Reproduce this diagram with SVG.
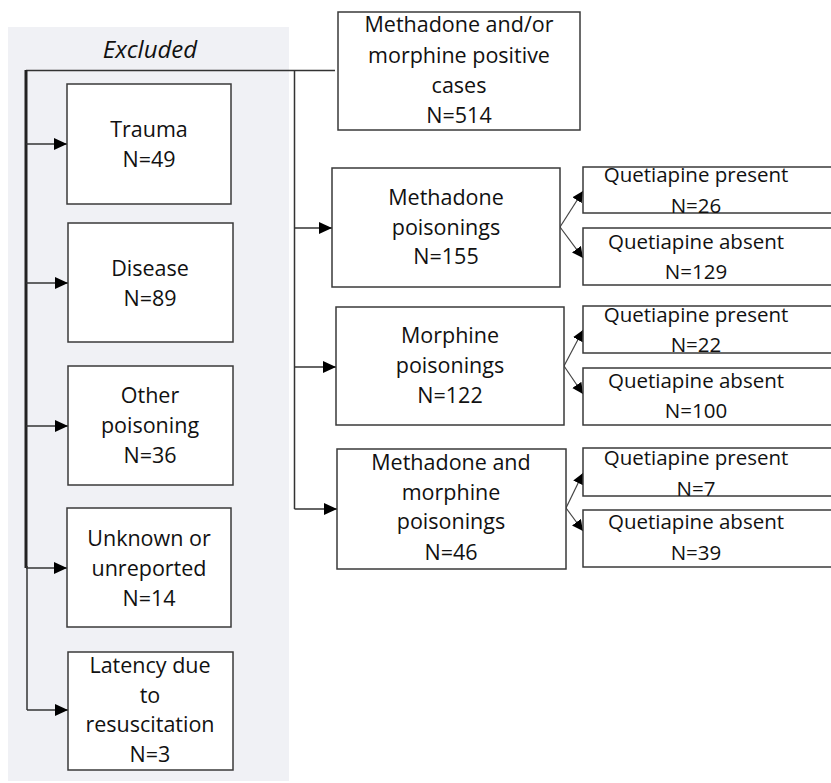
<svg xmlns="http://www.w3.org/2000/svg" width="831" height="783" viewBox="0 0 831 783">
<style>
.box{fill:#fff;stroke:#3a3a3a;stroke-width:1.5}
.t{font-family:"Open Sans","Noto Sans",sans-serif;font-size:21.5px;fill:#111;text-anchor:middle}
.q{font-size:20.5px}
.ln{fill:none;stroke:#333;stroke-width:1.5}
.br{fill:none;stroke:#444;stroke-width:1.2}
</style>
<defs>
<marker id="ah" markerUnits="userSpaceOnUse" markerWidth="14" markerHeight="12" refX="13" refY="6" orient="auto"><path d="M0,0 L13,6 L0,12 z" fill="#000"/></marker>
<marker id="ab" markerUnits="userSpaceOnUse" markerWidth="12" markerHeight="12" refX="11" refY="6" orient="auto"><path d="M0,0.5 L11,6 L0,11.5 z" fill="#000"/></marker>
</defs>
<rect x="8" y="27" width="281" height="754" fill="#f0f1f5"/>
<text x="150" y="58" class="t" style="font-style:italic;font-size:24px">Excluded</text>
<g id="connectors">
<path class="ln" d="M26,70.5 H335"/>
<path d="M26,70 V568" stroke="#222" stroke-width="3" fill="none"/>
<path class="ln" d="M27,566 V710"/>
<path class="ln" d="M26,144 H67" marker-end="url(#ah)"/>
<path class="ln" d="M26,283 H68" marker-end="url(#ah)"/>
<path class="ln" d="M26,426 H68" marker-end="url(#ah)"/>
<path class="ln" d="M26,568 H67" marker-end="url(#ah)"/>
<path class="ln" d="M27,710 H68" marker-end="url(#ah)"/>
<path class="ln" d="M294.5,70 V509"/>
<path class="ln" d="M294.5,228 H332" marker-end="url(#ah)"/>
<path class="ln" d="M294.5,367 H336" marker-end="url(#ah)"/>
<path class="ln" d="M294.5,509 H337" marker-end="url(#ah)"/>
<path class="br" d="M560,227 L583,191" marker-end="url(#ab)"/>
<path class="br" d="M560,227 L583,258" marker-end="url(#ab)"/>
<path class="br" d="M564,366 L583,330" marker-end="url(#ab)"/>
<path class="br" d="M564,366 L583,394" marker-end="url(#ab)"/>
<path class="br" d="M566,508 L583,473" marker-end="url(#ab)"/>
<path class="br" d="M566,508 L583,531" marker-end="url(#ab)"/>
</g>
<g id="trauma"><rect class="box" x="67" y="84" width="164" height="120"/><text class="t" x="149" y="137">Trauma</text><text class="t" x="149" y="167">N=49</text></g>
<g id="disease"><rect class="box" x="68" y="223" width="165" height="119"/><text class="t" x="150" y="276">Disease</text><text class="t" x="150" y="306">N=89</text></g>
<g id="other"><rect class="box" x="68" y="366" width="165" height="119"/><text class="t" x="150" y="403">Other</text><text class="t" x="150" y="433">poisoning</text><text class="t" x="150" y="463">N=36</text></g>
<g id="unknown"><rect class="box" x="67" y="508" width="164" height="119"/><text class="t" x="149" y="546">Unknown or</text><text class="t" x="149" y="576">unreported</text><text class="t" x="149" y="606">N=14</text></g>
<g id="latency"><rect class="box" x="68" y="652" width="165" height="118"/><text class="t" x="150" y="673">Latency due</text><text class="t" x="150" y="703">to</text><text class="t" x="150" y="732">resuscitation</text><text class="t" x="150" y="762">N=3</text></g>
<g id="total"><rect class="box" x="338" y="12" width="242" height="118"/><text class="t" x="459" y="32">Methadone and/or</text><text class="t" x="459" y="63">morphine positive</text><text class="t" x="459" y="93">cases</text><text class="t" x="459" y="123">N=514</text></g>
<g id="methadone"><rect class="box" x="332" y="168" width="228" height="119"/><text class="t" x="446" y="205">Methadone</text><text class="t" x="446" y="235">poisonings</text><text class="t" x="446" y="264">N=155</text></g>
<g id="morphine"><rect class="box" x="336" y="307" width="228" height="118"/><text class="t" x="450" y="343">Morphine</text><text class="t" x="450" y="373">poisonings</text><text class="t" x="450" y="403">N=122</text></g>
<g id="both"><rect class="box" x="337" y="449" width="229" height="120"/><text class="t" x="451" y="470">Methadone and</text><text class="t" x="451" y="500">morphine</text><text class="t" x="451" y="529">poisonings</text><text class="t" x="451" y="560">N=46</text></g>
<g id="m-present"><rect class="box" x="583" y="167" width="260" height="46"/><text class="t q" x="696" y="182">Quetiapine present</text><text class="t q" x="696" y="213">N=26</text></g>
<g id="m-absent"><rect class="box" x="583" y="228" width="260" height="57"/><text class="t q" x="696" y="249">Quetiapine absent</text><text class="t q" x="696" y="279">N=129</text></g>
<g id="mo-present"><rect class="box" x="583" y="306" width="260" height="47"/><text class="t q" x="696" y="322">Quetiapine present</text><text class="t q" x="696" y="352">N=22</text></g>
<g id="mo-absent"><rect class="box" x="583" y="368" width="260" height="57"/><text class="t q" x="696" y="388">Quetiapine absent</text><text class="t q" x="696" y="418">N=100</text></g>
<g id="b-present"><rect class="box" x="583" y="448" width="260" height="48"/><text class="t q" x="696" y="465">Quetiapine present</text><text class="t q" x="696" y="496">N=7</text></g>
<g id="b-absent"><rect class="box" x="583" y="510" width="260" height="57"/><text class="t q" x="696" y="529">Quetiapine absent</text><text class="t q" x="696" y="560">N=39</text></g>
</svg>
